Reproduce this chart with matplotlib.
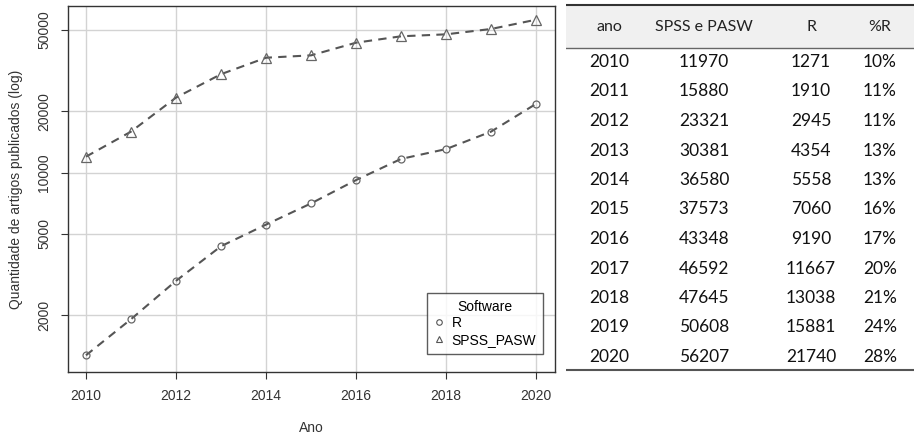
import matplotlib.pyplot as plt
from matplotlib.ticker import FixedLocator, NullLocator
from matplotlib.lines import Line2D

anos = [2010, 2011, 2012, 2013, 2014, 2015, 2016, 2017, 2018, 2019, 2020]
spss = [11970, 15880, 23321, 30381, 36580, 37573, 43348, 46592, 47645, 50608, 56207]
r_vals = [1271, 1910, 2945, 4354, 5558, 7060, 9190, 11667, 13038, 15881, 21740]
pct_r = ["10%", "11%", "11%", "13%", "13%", "16%", "17%", "20%", "21%", "24%", "28%"]
header = ["ano", "SPSS e PASW", "R", "%R"]

W, H = 914, 434
fig = plt.figure(figsize=(W / 100, H / 100), dpi=100)
plt.rcParams['font.family'] = ['Liberation Sans', 'DejaVu Sans']

# grafico (lado esquerdo)
ax = fig.add_axes([68 / W, 1 - 372 / H, (555 - 68) / W, (372 - 6) / H])
ax.set_yscale('log')
ax.set_xlim(2009.6, 2020.42)
ax.set_ylim(1052, 65600)

cor = '#555555'
ax.plot(anos, spss, linestyle=(0, (4, 3)), color=cor, lw=1.5, zorder=3)
ax.plot(anos, r_vals, linestyle=(0, (4, 3)), color=cor, lw=1.5, zorder=3)
ax.plot(anos, spss, linestyle='none', marker='^', ms=7, mfc='none', mec='#666666', mew=0.9, zorder=4)
ax.plot(anos, r_vals, linestyle='none', marker='o', ms=5, mfc='none', mec='#666666', mew=0.9, zorder=4)

ax.xaxis.set_major_locator(FixedLocator([2010, 2012, 2014, 2016, 2018, 2020]))
ax.yaxis.set_major_locator(FixedLocator([2000, 5000, 10000, 20000, 50000]))
ax.yaxis.set_minor_locator(NullLocator())
ax.set_yticklabels(['2000', '5000', '10000', '20000', '50000'], rotation=90, va='center')
ax.tick_params(axis='both', labelsize=10, colors='#333333', length=5, width=0.8, direction='out')
ax.tick_params(axis='x', pad=7)
ax.tick_params(axis='y', pad=7)
ax.grid(True, color='#d3d3d3', lw=1)
ax.set_axisbelow(True)
for s in ax.spines.values():
    s.set_color('#333333')
    s.set_linewidth(1)

ax.set_xlabel('Ano', fontsize=10, color='#333333', labelpad=13)
ax.set_ylabel('Quantidade de artigos publicados (log)', fontsize=10, color='#333333', labelpad=10)

handles = [
    Line2D([], [], linestyle='none', marker='o', ms=4, mfc='none', mec='#555555', mew=0.8),
    Line2D([], [], linestyle='none', marker='^', ms=5, mfc='none', mec='#555555', mew=0.8),
]
leg = ax.legend(handles, ['R', 'SPSS_PASW'], title='Software', loc='lower right',
                bbox_to_anchor=(0.99, 0.03), fontsize=10, title_fontsize=10,
                frameon=True, fancybox=False, handlelength=0.8, handletextpad=0.5,
                borderpad=0.5, labelspacing=0.2, edgecolor='#333333')
leg.get_frame().set_linewidth(1)

# tabela (lado direito)
tx = fig.add_axes([566 / W, 0, (914 - 566) / W, 1])
tx.set_xlim(566, 914)
tx.set_ylim(H, 0)
tx.axis('off')
tx.fill_between([566, 914], 5, 48, color='#f0f0f0', lw=0)
tx.plot([566, 914], [4.5, 4.5], color='#333333', lw=1.5)
tx.plot([566, 914], [48, 48], color='#666666', lw=1)
tx.plot([566, 914], [370, 370], color='#555555', lw=1.5)

col_x = [609, 704, 811, 880]
fonte = ['Lato', 'DejaVu Sans']
for cx, h in zip(col_x, header):
    tx.text(cx, 27, h, ha='center', va='center', fontsize=11.5, color='#222222', family=fonte)
for i in range(len(anos)):
    y = 62 + i * 29.5
    linha = [str(anos[i]), str(spss[i]), str(r_vals[i]), pct_r[i]]
    for cx, t in zip(col_x, linha):
        tx.text(cx, y, t, ha='center', va='center', fontsize=12.5, color='#111111', family=fonte)

fig.savefig('out.png', dpi=100)
